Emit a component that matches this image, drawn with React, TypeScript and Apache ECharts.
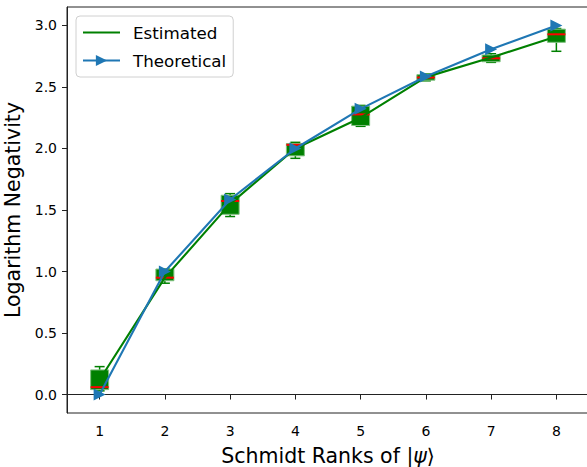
import React, { useEffect, useRef } from "react";
import * as echarts from "echarts";

const ranks = ["1", "2", "3", "4", "5", "6", "7", "8"];
const theoretical = [0, 1, 1.585, 2, 2.322, 2.585, 2.807, 3];
const estimatedMean = [0.12, 0.95, 1.55, 2.0, 2.25, 2.58, 2.74, 2.91];
const estMin = [0.03, 0.905, 1.447, 1.92, 2.18, 2.55, 2.7, 2.79];
const estQ1 = [0.04, 0.925, 1.465, 1.94, 2.187, 2.555, 2.705, 2.863];
const estMedian = [0.06, 0.95, 1.573, 2.03, 2.277, 2.577, 2.733, 2.928];
const estQ3 = [0.2, 1.02, 1.62, 2.04, 2.344, 2.6, 2.76, 2.97];
const estMax = [0.227, 1.02, 1.633, 2.05, 2.35, 2.605, 2.77, 2.975];
const yTicks = [0, 0.5, 1, 1.5, 2, 2.5, 3];

const FONT = "DejaVu Sans";
const GREEN = "#008000";
const BLUE = "#1f77b4";

export default function App() {
  const ref = useRef<HTMLDivElement>(null);

  useEffect(() => {
    if (!ref.current) return;
    const chart = echarts.init(ref.current, undefined, { renderer: "svg" });
    const boxData = ranks.map((_, i) => [i, estMin[i], estQ1[i], estMedian[i], estQ3[i], estMax[i]]);

    chart.setOption({
      animation: false,
      backgroundColor: "#ffffff",
      grid: {
        left: 67,
        top: 7,
        width: 522,
        height: 406,
        containLabel: false,
        outerBoundsMode: "none",
        show: true,
        borderColor: "#222",
        borderWidth: 1,
        backgroundColor: "transparent",
      },
      legend: {
        left: 76,
        top: 16,
        orient: "vertical",
        data: [
          { name: "Estimated", itemStyle: { opacity: 0 } },
          { name: "Theoretical" },
        ],
        itemWidth: 37,
        itemHeight: 14,
        itemGap: 11,
        padding: [8, 7, 8, 6],
        borderColor: "#d0d0d0",
        borderWidth: 1,
        borderRadius: 4,
        backgroundColor: "rgba(255,255,255,0.8)",
        textStyle: { fontFamily: FONT, fontSize: 16.7, color: "#000", padding: [0, 0, 0, 8] },
      },
      xAxis: {
        type: "category",
        data: ranks,
        boundaryGap: true,
        name: "Schmidt Ranks of |{i|ψ}⟩",
        nameLocation: "middle",
        nameGap: 32,
        nameTextStyle: {
          fontFamily: FONT,
          fontSize: 20.5,
          color: "#000",
          rich: { i: { fontFamily: FONT, fontSize: 20.5, fontStyle: "italic", color: "#000" } },
        },
        axisLine: { show: true, lineStyle: { color: "#222", width: 1 } },
        axisTick: { show: true, alignWithLabel: true, length: 5, lineStyle: { color: "#222", width: 1 } },
        axisLabel: { fontFamily: FONT, fontSize: 14, color: "#000", margin: 11 },
        splitLine: { show: false },
      },
      yAxis: {
        type: "value",
        min: -0.15,
        max: 3.15,
        name: "Logarithm Negativity",
        nameLocation: "middle",
        nameGap: 37,
        nameTextStyle: { fontFamily: FONT, fontSize: 20.5, color: "#000" },
        axisLine: { show: true, lineStyle: { color: "#222", width: 1 } },
        axisTick: { show: true, length: 5, customValues: yTicks, lineStyle: { color: "#222", width: 1 } },
        axisLabel: {
          fontFamily: FONT,
          fontSize: 14,
          color: "#000",
          margin: 10,
          customValues: yTicks,
          formatter: (v: number) => v.toFixed(1),
        },
        splitLine: { show: false },
      },
      series: [
        {
          name: "box",
          type: "custom",
          data: boxData,
          encode: { x: 0, y: [1, 2, 3, 4, 5] },
          z: 1,
          renderItem: (params: any, api: any) => {
            const x = api.value(0);
            const pMin = api.coord([x, api.value(1)]);
            const pQ1 = api.coord([x, api.value(2)]);
            const pMed = api.coord([x, api.value(3)]);
            const pQ3 = api.coord([x, api.value(4)]);
            const pMax = api.coord([x, api.value(5)]);
            const cx = pMed[0];
            const half = 9;
            const cap = 5;
            const wStyle = { stroke: GREEN, lineWidth: 1.5 };
            return {
              type: "group",
              children: [
                { type: "line", shape: { x1: cx, y1: pMin[1], x2: cx, y2: pQ1[1] }, style: wStyle },
                { type: "line", shape: { x1: cx, y1: pQ3[1], x2: cx, y2: pMax[1] }, style: wStyle },
                { type: "line", shape: { x1: cx - cap, y1: pMin[1], x2: cx + cap, y2: pMin[1] }, style: wStyle },
                { type: "line", shape: { x1: cx - cap, y1: pMax[1], x2: cx + cap, y2: pMax[1] }, style: wStyle },
                {
                  type: "rect",
                  shape: { x: cx - half, y: pQ3[1], width: half * 2, height: pQ1[1] - pQ3[1] },
                  style: { fill: GREEN, stroke: "#7fc07f", lineWidth: 1 },
                },
                {
                  type: "line",
                  shape: { x1: cx - half, y1: pMed[1], x2: cx + half, y2: pMed[1] },
                  style: { stroke: "#ff0000", lineWidth: 2 },
                },
              ],
            };
          },
        },
        {
          name: "Estimated",
          type: "line",
          data: estimatedMean,
          symbol: "none",
          z: 3,
          lineStyle: { color: GREEN, width: 2.1 },
          itemStyle: { color: GREEN },
        },
        {
          name: "Theoretical",
          type: "line",
          data: theoretical,
          symbol: "triangle",
          symbolRotate: -90,
          symbolSize: 12,
          showAllSymbol: true,
          z: 4,
          lineStyle: { color: BLUE, width: 2.1 },
          itemStyle: { color: BLUE },
        },
      ],
    });

    return () => chart.dispose();
  }, []);

  return (
    <div
      ref={ref}
      style={{ position: "fixed", left: 0, top: 0, width: 587, height: 467, background: "#fff" }}
    />
  );
}
